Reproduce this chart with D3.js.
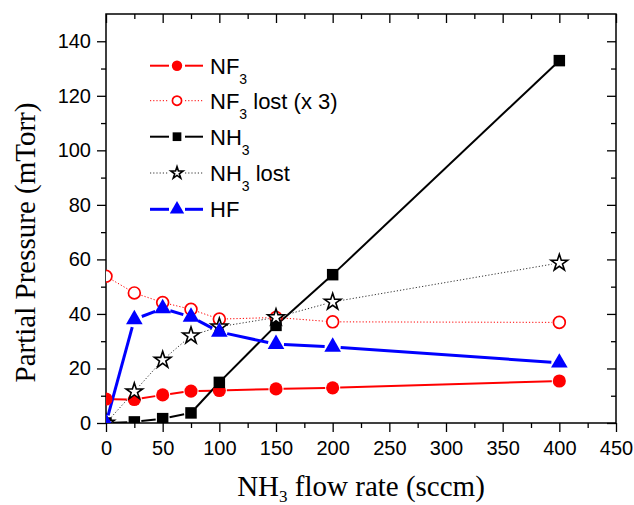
<!DOCTYPE html>
<html><head><meta charset="utf-8">
<script src="https://cdn.jsdelivr.net/npm/d3@7"></script>
<style>body{margin:0;background:#fff}svg{display:block}</style>
</head><body><svg id="c" width="634" height="505"></svg>
<script>
// ---- data ----
const flow = [0, 25, 50, 75, 100, 150, 200, 400];
const nf3 = [8.8, 8.6, 10.3, 11.7, 11.9, 12.5, 12.9, 15.4];
const nf3Lost = [53.8, 47.7, 44.2, 41.7, 38.1, 38.7, 37.1, 36.9];
const nh3 = [0, 0.4, 1.6, 3.7, 14.9, 35.8, 54.4, 132.9];
const nh3Lost = [0, 11.5, 23.1, 32.0, 35.3, 38.7, 44.4, 58.7];
const hf = [0, 38.0, 42.0, 38.9, 33.4, 28.9, 27.9, 22.1];
const xTicks = [0, 50, 100, 150, 200, 250, 300, 350, 400, 450];
const yTicks = [0, 20, 40, 60, 80, 100, 120, 140];
const seriesNames = [["NF", "3", ""], ["NF", "3", " lost (x 3)"], ["NH", "3", ""], ["NH", "3", " lost"], ["HF", "", ""]];

// ---- styles ----
const styles = [
  {vals: nf3, color: "#ff0000", width: 2, dash: null, sym: d3.symbolCircle, size: 135, fill: "#ff0000", gap: 7.5, lsize: 85},
  {vals: nf3Lost, color: "#ff0000", width: 1, dash: "1.2,2", sym: d3.symbolCircle, size: 110, fill: "#fff", gap: 7.5, lsize: 66, mstroke: 1.7},
  {vals: nh3, color: "#000", width: 2, dash: null, sym: d3.symbolSquare, size: 132, fill: "#000", gap: 7, lsize: 76},
  {vals: nh3Lost, color: "#333", width: 1, dash: "1.2,2", sym: d3.symbolStar, size: 85, fill: "#fff", gap: 7.5, lsize: 46, mstroke: 1.6, mcolor: "#000"},
  {vals: hf, color: "#0000ff", width: 3, dash: null, sym: d3.symbolTriangle, size: 120, fill: "#0000ff", gap: 8, lsize: 90}
];

const W = 634, H = 505, m = {l: 106, t: 14, r: 18, b: 82};
const svg = d3.select("#c");
const x = d3.scaleLinear().domain([0, 450]).range([m.l, W - m.r]);
const y = d3.scaleLinear().domain([0, 150]).range([H - m.b, m.t]);
const tickFont = "'Liberation Sans', Arial, sans-serif";
const serif = "'Liberation Serif', 'Times New Roman', serif";

svg.append("defs").append("clipPath").attr("id", "clip")
  .append("rect").attr("x", m.l).attr("y", m.t).attr("width", W - m.l - m.r).attr("height", H - m.t - m.b);

function styleAxis(g) {
  g.select(".domain").remove();
  g.selectAll("line").attr("stroke", "#000").attr("stroke-width", 1.3);
  g.selectAll("text").attr("font-family", tickFont).attr("font-size", 20).attr("fill", "#000");
}
const xMinor = d3.range(25, 450, 50);
const yMinor = d3.range(10, 150, 20);

// bottom
svg.append("g").attr("transform", `translate(0,${H - m.b})`)
  .call(d3.axisBottom(x).tickValues(xTicks).tickSize(9).tickPadding(9).tickFormat(d3.format("d"))).call(styleAxis);
svg.append("g").attr("transform", `translate(0,${H - m.b})`)
  .call(d3.axisBottom(x).tickValues(xMinor).tickSize(5).tickFormat("")).call(styleAxis);
// top (inward)
svg.append("g").attr("transform", `translate(0,${m.t})`)
  .call(d3.axisBottom(x).tickValues(xTicks).tickSize(9).tickFormat("")).call(styleAxis);
svg.append("g").attr("transform", `translate(0,${m.t})`)
  .call(d3.axisBottom(x).tickValues(xMinor).tickSize(5).tickFormat("")).call(styleAxis);
// left
svg.append("g").attr("transform", `translate(${m.l},0)`)
  .call(d3.axisLeft(y).tickValues(yTicks).tickSize(9).tickPadding(6).tickFormat(d3.format("d"))).call(styleAxis);
svg.append("g").attr("transform", `translate(${m.l},0)`)
  .call(d3.axisLeft(y).tickValues(yMinor).tickSize(5).tickFormat("")).call(styleAxis);
// right (inward)
svg.append("g").attr("transform", `translate(${W - m.r},0)`)
  .call(d3.axisLeft(y).tickValues(yTicks).tickSize(9).tickFormat("")).call(styleAxis);
svg.append("g").attr("transform", `translate(${W - m.r},0)`)
  .call(d3.axisLeft(y).tickValues(yMinor).tickSize(5).tickFormat("")).call(styleAxis);

// frame
svg.append("rect").attr("x", m.l).attr("y", m.t).attr("width", W - m.l - m.r).attr("height", H - m.t - m.b)
  .attr("fill", "none").attr("stroke", "#000").attr("stroke-width", 1.5);

// series
const plot = svg.append("g").attr("clip-path", "url(#clip)");
styles.forEach(s => {
  const pts = flow.map((f, i) => [x(f), y(s.vals[i])]);
  const segs = [];
  for (let i = 0; i < pts.length - 1; i++) {
    const [x0, y0] = pts[i], [x1, y1] = pts[i + 1];
    const dx = x1 - x0, dy = y1 - y0, L = Math.hypot(dx, dy);
    if (L <= 2 * s.gap) continue;
    const ux = dx / L, uy = dy / L;
    segs.push([[x0 + ux * s.gap, y0 + uy * s.gap], [x1 - ux * s.gap, y1 - uy * s.gap]]);
  }
  plot.append("g").selectAll("path").data(segs).join("path")
    .attr("d", d => d3.line()(d)).attr("fill", "none").attr("stroke", s.color)
    .attr("stroke-width", s.width).attr("stroke-dasharray", s.dash);
});
styles.forEach(s => {
  plot.append("g").selectAll("path").data(flow.map((f, i) => [x(f), y(s.vals[i])])).join("path")
    .attr("transform", d => `translate(${d[0]},${d[1]})`)
    .attr("d", d3.symbol(s.sym, s.size)())
    .attr("fill", s.fill)
    .attr("stroke", s.fill === "#fff" ? (s.mcolor || s.color) : "none")
    .attr("stroke-width", s.mstroke || 0);
});

// legend
const lg = svg.append("g");
const rowY = [65.7, 100.7, 136.7, 173, 209.3];
styles.forEach((s, i) => {
  const ry = rowY[i];
  const g = lg.append("g");
  [[150, 169], [185, 203]].forEach(([a, b]) => {
    g.append("line").attr("x1", a).attr("x2", b).attr("y1", ry).attr("y2", ry)
      .attr("stroke", s.color).attr("stroke-width", s.width).attr("stroke-dasharray", s.dash);
  });
  g.append("path").attr("transform", `translate(177,${ry})`).attr("d", d3.symbol(s.sym, s.lsize)())
    .attr("fill", s.fill).attr("stroke", s.fill === "#fff" ? (s.mcolor || s.color) : "none")
    .attr("stroke-width", s.mstroke || 0);
  const t = g.append("text").attr("x", 210).attr("y", ry + 8)
    .attr("font-family", tickFont).attr("font-size", 22).attr("fill", "#000");
  const [a, sub, rest] = seriesNames[i];
  t.append("tspan").text(a);
  if (sub) t.append("tspan").attr("font-size", 14).attr("dy", 10).text(sub);
  if (rest) t.append("tspan").attr("dy", sub ? -10 : 0).text(rest);
});

// axis titles
const xt = svg.append("text").attr("x", 361).attr("y", 496).attr("text-anchor", "middle")
  .attr("font-family", serif).attr("font-size", 29).attr("fill", "#000");
xt.append("tspan").text("NH");
xt.append("tspan").attr("font-size", 17).attr("dy", 6).text("3");
xt.append("tspan").attr("dy", -6).text(" flow rate (sccm)");

svg.append("text").attr("transform", "translate(35,242.5) rotate(-90)").attr("text-anchor", "middle")
  .attr("font-family", serif).attr("font-size", 29).attr("fill", "#000").text("Partial Pressure (mTorr)");
</script>
</body></html>
